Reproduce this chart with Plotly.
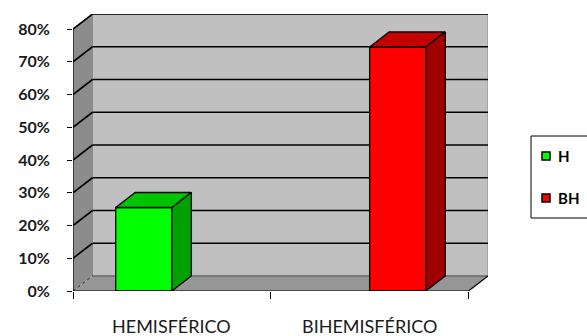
import plotly.graph_objects as go

# ---- data ----
categories = ["HEMISFÉRICO", "BIHEMISFÉRICO"]
series_names = ["H", "BH"]
h_values = [25.5, None]
bh_values = [None, 74.5]
series_values = [h_values, bh_values]
front_colors = ["#00FF00", "#FF0000"]
top_colors = ["#00C400", "#C40000"]
side_colors = ["#00A000", "#A00000"]
y_ticks = [0, 10, 20, 30, 40, 50, 60, 70, 80]
y_tick_labels = ["0%", "10%", "20%", "30%", "40%", "50%", "60%", "70%", "80%"]

# ---- 3D emulation parameters (axis units) ----
DX = 0.0986      # depth offset in category units
DY = 4.58        # depth offset in percent units
BW = 0.284       # bar width (category units)
YMAX = y_ticks[-1]
X0, X1 = -0.5, len(categories) - 0.5
NS = len(series_names)

FONT = "Lato, 'Open Sans', sans-serif"

# plot-area pixel geometry (for paper-coordinate legend)
L, R, T, B = 73, 99, 14, 45
W, H = 587, 336
PW, PH = W - L - R, H - T - B

def px(xpix):
    return (xpix - L) / PW

def py(ypix):
    return (H - B - ypix) / PH

fig = go.Figure()
shapes = []

def poly(pts):
    return "M" + " L".join(f"{x},{y}" for x, y in pts) + " Z"

# back wall
shapes.append(dict(type="path", path=poly([(X0 + DX, DY), (X1 + DX, DY), (X1 + DX, YMAX + DY), (X0 + DX, YMAX + DY)]),
                   fillcolor="#C0C0C0", line=dict(color="#8a8a8a", width=1), layer="below"))
# left wall
shapes.append(dict(type="path", path=poly([(X0, 0), (X0 + DX, DY), (X0 + DX, YMAX + DY), (X0, YMAX)]),
                   fillcolor="#8C8C8C", line=dict(width=0), layer="below"))
# floor
shapes.append(dict(type="path", path=poly([(X0, 0), (X1, 0), (X1 + DX, DY), (X0 + DX, DY)]),
                   fillcolor="#969696", line=dict(width=0), layer="below"))
shapes.append(dict(type="line", x0=X0 + DX, y0=DY, x1=X1 + DX, y1=DY,
                   line=dict(color="#505050", width=1), layer="below"))
shapes.append(dict(type="line", x0=X0, y0=0, x1=X0 + DX, y1=DY,
                   line=dict(color="#202020", width=1, dash="dot"), layer="below"))

# gridlines
for v in y_ticks[1:]:
    shapes.append(dict(type="line", x0=X0, y0=v, x1=X0 + DX, y1=v + DY,
                       line=dict(color="black", width=1.6), layer="below"))
    shapes.append(dict(type="line", x0=X0 + DX, y0=v + DY, x1=X1 + DX, y1=v + DY,
                       line=dict(color="black", width=1.6), layer="below"))

# axis lines
shapes.append(dict(type="line", x0=X0, y0=0, x1=X0, y1=YMAX, line=dict(color="black", width=1.2)))
shapes.append(dict(type="line", x0=X0, y0=0, x1=X1, y1=0, line=dict(color="black", width=1.2)))
shapes.append(dict(type="line", x0=X1, y0=0, x1=X1 + DX, y1=DY, line=dict(color="black", width=1.2)))

# bars (grouped: series j offset within each category)
for j, (name, vals) in enumerate(zip(series_names, series_values)):
    offset = (j - NS / 2) * BW
    fig.add_trace(go.Bar(
        x=list(range(len(categories))), y=vals, width=BW, offset=offset, name=name,
        marker=dict(color=front_colors[j], line=dict(color="black", width=1.3)),
        showlegend=False, hoverinfo="skip"))
    for i, v in enumerate(vals):
        if v is None:
            continue
        xl = i + offset
        xr = xl + BW
        top = [(xl, v), (xr, v), (xr + DX, v + DY), (xl + DX, v + DY), (xl, v)]
        side = [(xr, 0), (xr + DX, DY), (xr + DX, v + DY), (xr, v), (xr, 0)]
        for pts, col in ((top, top_colors[j]), (side, side_colors[j])):
            fig.add_trace(go.Scatter(
                x=[p[0] for p in pts], y=[p[1] for p in pts], mode="lines", fill="toself",
                fillcolor=col, line=dict(color="black", width=1.3),
                showlegend=False, hoverinfo="skip"))

annotations = []
for i, cat in enumerate(categories):
    annotations.append(dict(x=i, y=py(326), xref="x", yref="paper", text=cat, showarrow=False,
                            yanchor="middle", xanchor="center",
                            font=dict(family=FONT, size=18, color="#1a1a1a")))

# manual legend
shapes.append(dict(type="rect", xref="paper", yref="paper",
                   x0=px(531), x1=px(605), y0=py(218), y1=py(136),
                   line=dict(color="black", width=1), fillcolor="white"))
legend_rows = [156, 198]
for j, name in enumerate(series_names):
    yc = legend_rows[j]
    shapes.append(dict(type="rect", xref="paper", yref="paper",
                       x0=px(542), x1=px(550), y0=py(yc + 4), y1=py(yc - 4),
                       line=dict(color="black", width=1.5), fillcolor=front_colors[j]))
    annotations.append(dict(x=px(556), y=py(yc), xref="paper", yref="paper", text=name,
                            showarrow=False, xanchor="left", yanchor="middle",
                            font=dict(family=FONT, size=15, color="black", weight="bold")))

fig.update_layout(
    width=W, height=H,
    margin=dict(l=L, r=R, t=T, b=B, autoexpand=False),
    paper_bgcolor="white", plot_bgcolor="white",
    shapes=shapes, annotations=annotations,
    barmode="overlay",
    xaxis=dict(range=[X0, X1 + DX], showgrid=False, zeroline=False, showline=False,
               tickmode="array", tickvals=[X0, 0.5, X1], ticktext=["", "", ""],
               ticks="outside", ticklen=7, tickcolor="black", tickwidth=1.2, fixedrange=True),
    yaxis=dict(range=[0, YMAX + DY], showgrid=False, zeroline=False, showline=False,
               tickmode="array", tickvals=y_ticks, ticktext=y_tick_labels,
               ticks="outside", ticklen=5, tickcolor="black", tickwidth=1.2,
               ticklabelstandoff=14,
               tickfont=dict(family=FONT, size=16, color="#1a1a1a", weight="bold"), fixedrange=True),
    showlegend=False,
)

fig.write_html("out.html")
